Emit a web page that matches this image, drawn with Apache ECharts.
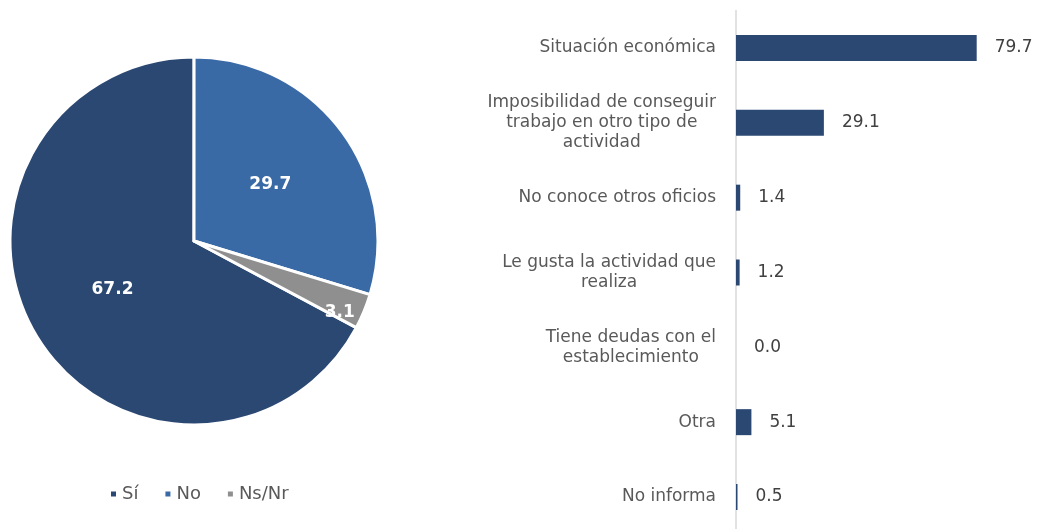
<!DOCTYPE html>
<html>
<head>
<meta charset="utf-8">
<script src="https://cdn.jsdelivr.net/npm/echarts@6/dist/echarts.min.js"></script>
<style>
  html, body { margin: 0; padding: 0; background: #fff; }
  #chart { width: 1038px; height: 529px; }
</style>
</head>
<body>
<div id="chart"></div>
<script>
const pieNames = ['Sí', 'No', 'Ns/Nr'];
const pieValues = [67.2, 29.7, 3.1];

const barCategories = [
  'Situación económica',
  'Imposibilidad de conseguir\ntrabajo en otro tipo de\nactividad',
  'No conoce otros oficios',
  'Le gusta la actividad que\nrealiza',
  'Tiene deudas con el\nestablecimiento',
  'Otra',
  'No informa'
];
const barValues = [79.7, 29.1, 1.4, 1.2, 0.0, 5.1, 0.5];

const font = "'DejaVu Sans', sans-serif";
const pieColors = ['#2B4873', '#3A6AA6', '#8F8F8F'];

const chart = echarts.init(document.getElementById('chart'));

chart.setOption({
  animation: false,
  textStyle: { fontFamily: font },
  legend: {
    data: pieNames,
    left: 104,
    top: 480,
    icon: 'rect',
    itemWidth: 7,
    itemHeight: 7,
    itemGap: 25,
    textStyle: { fontSize: 18, color: '#595959', fontFamily: font }
  },
  grid: {
    left: 736,
    width: 302,
    top: 10.6,
    height: 523.8,
    containLabel: false,
    outerBoundsMode: 'none'
  },
  xAxis: {
    type: 'value',
    min: 0,
    max: 100,
    show: false
  },
  yAxis: {
    type: 'category',
    inverse: true,
    data: barCategories,
    axisLine: { show: true, lineStyle: { color: '#D9D9D9', width: 1.5 } },
    axisTick: { show: false },
    axisLabel: {
      margin: 20,
      align: 'right',
      formatter: (v) => v.split('\n').map((l) => '{c|' + l + '}').join('\n'),
      rich: {
        c: {
          align: 'center',
          fontSize: 17,
          lineHeight: 20,
          color: '#595959',
          fontFamily: font
        }
      }
    }
  },
  series: [
    {
      type: 'pie',
      center: [194, 241],
      radius: [0, 184],
      startAngle: 331.9,
      clockwise: true,
      data: pieNames.map((n, i) => ({
        name: n,
        value: pieValues[i],
        itemStyle: { color: pieColors[i] },
        label: i === 2 ? { offset: [58, 35] } : {}
      })),
      itemStyle: { borderColor: '#fff', borderWidth: 3 },
      label: {
        show: true,
        position: 'inside',
        formatter: (p) => p.value.toFixed(1),
        color: '#fff',
        fontSize: 17,
        fontWeight: 'bold',
        fontFamily: font
      },
      labelLine: { show: false },
      emphasis: { disabled: true }
    },
    {
      type: 'bar',
      data: barValues,
      barWidth: 26,
      itemStyle: { color: '#2B4873' },
      label: {
        show: true,
        position: 'right',
        distance: 18,
        formatter: (p) => p.value.toFixed(1),
        fontSize: 17,
        color: '#404040',
        fontFamily: font
      }
    }
  ]
});
</script>
</body>
</html>
